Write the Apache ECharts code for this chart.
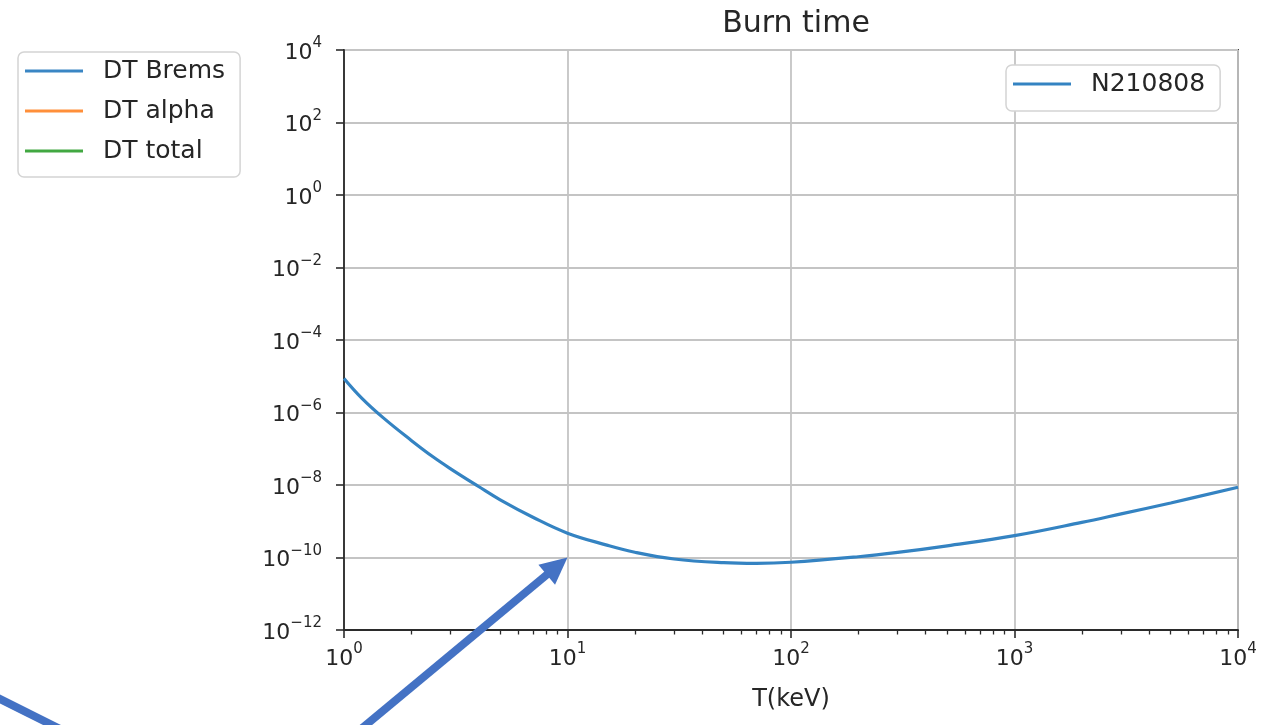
<!DOCTYPE html>
<html><head><meta charset="utf-8">
<script src="https://cdn.jsdelivr.net/npm/echarts@6/dist/echarts.min.js"></script>
<style>html,body{margin:0;padding:0;background:#fff}#c{width:1281px;height:725px}</style>
</head><body><div id="c"></div>
<script>
// ---- data ----
const temperaturesKeV = [1, 1.2, 1.5, 2, 2.5, 3, 4, 5, 7, 10, 15, 20, 30, 50, 70, 100, 200, 300, 500, 1000, 2000, 3000, 5000, 10000];
const burnTimeN210808 = [8.7e-6, 2.5e-6, 7.1e-7, 1.7e-7, 6.0e-8, 2.8e-8, 9.1e-9, 3.9e-9, 1.29e-9, 4.7e-10, 2.2e-10, 1.4e-10, 9.1e-11, 7.2e-11, 6.9e-11, 7.4e-11, 1.05e-10, 1.38e-10, 2.1e-10, 4.0e-10, 9.3e-10, 1.6e-9, 3.2e-9, 8.7e-9];
const dtBrems = [];
const dtAlpha = [];
const dtTotal = [];
const leftLegendNames = ['DT Brems', 'DT alpha', 'DT total'];
const rightLegendNames = ['N210808'];
const xMinorTickValues = [2,3,4,5,6,7,8,9,20,30,40,50,60,70,80,90,200,300,400,500,600,700,800,900,2000,3000,4000,5000,6000,7000,8000,9000];
const arrowTarget = [10, 1e-10];
const titleText = 'Burn time';
const xAxisName = 'T(keV)';

const FONT = 'DejaVu Sans';
const pow10Label = v => {
  const e = Math.round(Math.log10(v));
  return '{b|10}{e|' + (e < 0 ? '\u2212' + (-e) : e) + '}';
};
const labelRich = {
  b: {fontFamily: FONT, fontSize: 22, color: '#262626', lineHeight: 28, verticalAlign: 'bottom'},
  e: {fontFamily: FONT, fontSize: 15, color: '#262626', lineHeight: 28, verticalAlign: 'top'}
};

const chart = echarts.init(document.getElementById('c'), null, {renderer: 'canvas'});
const option = {
  backgroundColor: '#ffffff',
  animation: false,
  title: {
    text: titleText, left: 791, top: 4, textAlign: 'center',
    textStyle: {fontFamily: FONT, fontSize: 30, fontWeight: 'normal', color: '#262626'}
  },
  grid: {left: 344, right: 43, top: 50, bottom: 95, show: true, borderColor: '#2b2b2b', borderWidth: 1.8, backgroundColor: '#fff', outerBoundsMode: 'none'},
  legend: [
    {
      data: leftLegendNames, orient: 'vertical', left: 18, top: 52,
      icon: 'rect', itemWidth: 58, itemHeight: 3, itemGap: 12,
      padding: [5, 15, 12, 7],
      backgroundColor: '#fff', borderColor: '#d4d4d4', borderWidth: 1.5, borderRadius: 6,
      textStyle: {fontFamily: FONT, fontSize: 25, color: '#262626', lineHeight: 28, padding: [0, 0, 0, 15]},
      selectedMode: false
    },
    {
      data: rightLegendNames, orient: 'vertical', left: 1006, top: 65,
      icon: 'rect', itemWidth: 58, itemHeight: 3,
      padding: [5, 15, 13, 7],
      backgroundColor: '#fff', borderColor: '#d4d4d4', borderWidth: 1.5, borderRadius: 6,
      textStyle: {fontFamily: FONT, fontSize: 25, color: '#262626', lineHeight: 28, padding: [0, 0, 0, 15]},
      selectedMode: false
    }
  ],
  xAxis: [
    {
      type: 'log', logBase: 10, min: 1, max: 10000, gridIndex: 0,
      name: xAxisName, nameLocation: 'middle', nameGap: 58,
      nameTextStyle: {fontFamily: FONT, fontSize: 24, color: '#262626'},
      axisLine: {show: true, onZero: false, lineStyle: {color: '#2b2b2b', width: 1.8}},
      axisTick: {show: true, inside: false, length: 8, lineStyle: {color: '#2b2b2b', width: 1.6}},
      axisLabel: {formatter: pow10Label, rich: labelRich, margin: 12, color: '#262626'},
      splitLine: {show: true, lineStyle: {color: '#c4c4c4', width: 1.8}},
      minorTick: {show: false}
    },
    {
      type: 'log', logBase: 10, min: 1, max: 10000, gridIndex: 0, position: 'bottom',
      axisLine: {show: false},
      axisTick: {show: true, inside: false, length: 4.5, customValues: xMinorTickValues, lineStyle: {color: '#2b2b2b', width: 1.3}},
      axisLabel: {show: false},
      splitLine: {show: false}
    }
  ],
  yAxis: {
    type: 'log', logBase: 10, min: 1e-12, max: 1e4, interval: 2,
    axisLine: {show: true, onZero: false, lineStyle: {color: '#2b2b2b', width: 1.8}},
    axisTick: {show: true, inside: false, length: 8, lineStyle: {color: '#2b2b2b', width: 1.6}},
    axisLabel: {formatter: pow10Label, rich: labelRich, margin: 22, color: '#262626'},
    splitLine: {show: true, lineStyle: {color: '#c4c4c4', width: 1.8}},
    minorTick: {show: false}
  },
  series: [
    {name: 'N210808', type: 'line', xAxisIndex: 0, yAxisIndex: 0, color: '#3483c2', showSymbol: false, symbol: 'none', smooth: 0.4,
     lineStyle: {width: 3.2, color: '#3483c2'}, data: temperaturesKeV.map((t, i) => [t, burnTimeN210808[i]])},
    {name: 'DT Brems', type: 'line', color: '#3a86c4', symbol: 'none', lineStyle: {color: '#3a86c4'}, data: dtBrems},
    {name: 'DT alpha', type: 'line', color: '#ff8f3a', symbol: 'none', lineStyle: {color: '#ff8f3a'}, data: dtAlpha},
    {name: 'DT total', type: 'line', color: '#42a842', symbol: 'none', lineStyle: {color: '#42a842'}, data: dtTotal}
  ]
};
chart.setOption(option);

// annotation arrows (drawn over the chart, pointing at a data location)
const tip = chart.convertToPixel({xAxisIndex: 0, yAxisIndex: 0}, arrowTarget);
const dir = [201, -167];
const len = Math.hypot(dir[0], dir[1]);
const d = [dir[0] / len, dir[1] / len];
const nrm = [-d[1], d[0]];
const headLen = 27, headHalf = 13;
const base = [tip[0] - headLen * d[0], tip[1] - headLen * d[1]];
const tail = [tip[0] - 320 * d[0], tip[1] - 320 * d[1]];
chart.setOption({
  graphic: [
    {type: 'polyline', z: 100, shape: {points: [tail, [base[0] + 2 * d[0], base[1] + 2 * d[1]]]}, style: {stroke: '#4472c4', lineWidth: 8, fill: null}},
    {type: 'polygon', z: 100, shape: {points: [tip, [base[0] + headHalf * nrm[0], base[1] + headHalf * nrm[1]], [base[0] - headHalf * nrm[0], base[1] - headHalf * nrm[1]]]}, style: {fill: '#4472c4'}},
    {type: 'polyline', z: 100, shape: {points: [[-10, 694], [70, 734]]}, style: {stroke: '#4472c4', lineWidth: 8, fill: null}}
  ]
});
</script></body></html>
